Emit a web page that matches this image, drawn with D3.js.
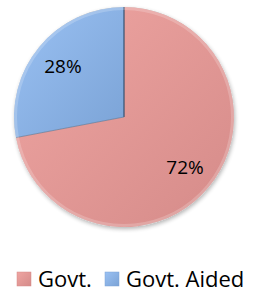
<!DOCTYPE html>
<html lang="en">
<head>
  <meta charset="UTF-8">
  <title>Govt vs Aided</title>
</head>
<style>
    body { margin: 0; background: #fff; }
    text {
      font-family: "Open Sans", "Liberation Sans", sans-serif;
    }
</style>
<body>
<div id="chart"></div>
<script src="https://cdnjs.cloudflare.com/ajax/libs/d3/7.8.5/d3.min.js"></script>
<script>
/* global d3 */
var categories = ["Govt.", "Govt. Aided"];
var values = [72, 28];
var colours = ["#e39c9a", "#92b7e6"];
var darker = ["#d58b89", "#7ba3d6"];

var width = 264;
var height = 293;
var cx = 124, cy = 117, radius = 110;

var svg = d3.select("#chart")
    .append("svg")
    .attr("width", width)
    .attr("height", height);

var defs = svg.append("defs");

var shadow = defs.append("filter").attr("id", "shadow")
    .attr("x", "-10%").attr("y", "-10%").attr("width", "120%").attr("height", "120%");
shadow.append("feGaussianBlur").attr("in", "SourceAlpha").attr("stdDeviation", 2);
shadow.append("feOffset").attr("dx", 1).attr("dy", 2).attr("result", "b");
shadow.append("feComponentTransfer").append("feFuncA").attr("type", "linear").attr("slope", 0.3);
var merge = shadow.append("feMerge");
merge.append("feMergeNode");
merge.append("feMergeNode").attr("in", "SourceGraphic");

categories.forEach(function(c, i) {
  var g = defs.append("linearGradient")
      .attr("id", "grad" + i)
      .attr("x1", "0").attr("y1", "0").attr("x2", "1").attr("y2", "1");
  g.append("stop").attr("offset", "0%").attr("stop-color", d3.color(colours[i]).brighter(0.15));
  g.append("stop").attr("offset", "100%").attr("stop-color", darker[i]);
});

var pie = d3.pie().sort(null).value(function(d) { return d; });
var arcs = pie(values);

var arc = d3.arc().innerRadius(0).outerRadius(radius);
var labelArc = d3.arc().innerRadius(radius * 0.72).outerRadius(radius * 0.72);

var g = svg.append("g")
    .attr("transform", "translate(" + cx + "," + cy + ")");

g.append("circle").attr("r", radius).attr("fill", "#ccc").attr("filter", "url(#shadow)");

g.selectAll(".slice")
    .data(arcs)
    .enter()
    .append("path")
    .attr("class", "slice")
    .attr("d", arc)
    .attr("fill", function(d, i) { return "url(#grad" + i + ")"; });

// dark edge where the blue slice meets the top
g.append("line")
    .attr("x1", 0).attr("y1", 0)
    .attr("x2", 0).attr("y2", -radius)
    .attr("stroke", "#34506f")
    .attr("stroke-width", 1.2);

// soft edge between slices at the left
var edgeAngle = arcs[1].startAngle;
g.append("line")
    .attr("x1", 0).attr("y1", 0)
    .attr("x2", radius * Math.sin(edgeAngle)).attr("y2", -radius * Math.cos(edgeAngle))
    .attr("stroke", "#5a7391")
    .attr("stroke-opacity", 0.6)
    .attr("stroke-width", 1);

// bevel highlight near the rim
g.append("circle")
    .attr("r", radius - 1.5)
    .attr("fill", "none")
    .attr("stroke", "#fff")
    .attr("stroke-opacity", 0.2)
    .attr("stroke-width", 3);

g.selectAll(".label")
    .data(arcs)
    .enter()
    .append("text")
    .attr("class", "label")
    .attr("transform", function(d) {
      var c = labelArc.centroid(d);
      return "translate(" + c[0] + "," + c[1] + ")";
    })
    .attr("text-anchor", "middle")
    .attr("dy", "0.36em")
    .style("font-size", "19px")
    .style("fill", "#000")
    .text(function(d) { return d.data + "%"; });

// legend
var legendX = d3.scaleOrdinal().domain(categories).range([17, 105]);
var legend = svg.selectAll(".legend")
    .data(categories)
    .enter()
    .append("g")
    .attr("class", "legend")
    .attr("transform", function(d) { return "translate(" + legendX(d) + ",272)"; });

legend.append("rect")
    .attr("width", 14)
    .attr("height", 14)
    .attr("fill", function(d, i) { return "url(#grad" + i + ")"; })
    .attr("stroke", function(d, i) { return darker[i]; })
    .attr("stroke-width", 0.5);

legend.append("text")
    .attr("x", 21)
    .attr("y", 15)
    .style("font-size", "22px")
    .style("fill", "#000")
    .text(function(d) { return d; });
</script>
</body>
</html>
